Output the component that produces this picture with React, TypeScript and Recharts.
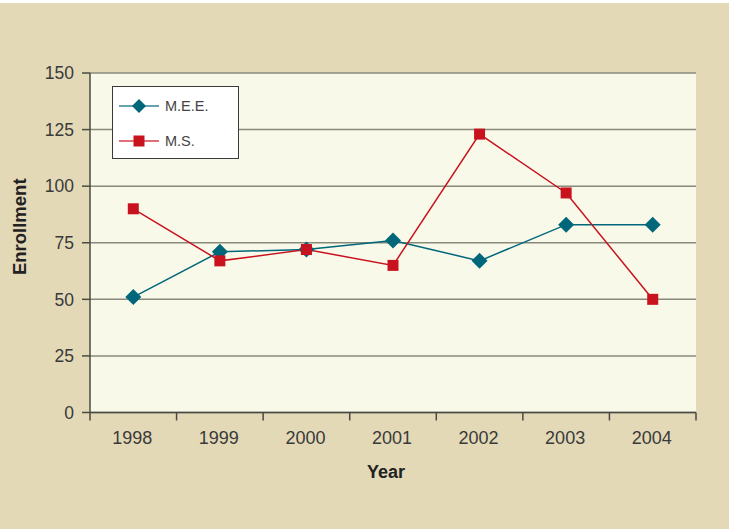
import { CartesianGrid, ComposedChart, Legend, Line, XAxis, YAxis } from 'recharts';

const YEARS = ['1998', '1999', '2000', '2001', '2002', '2003', '2004'];
const MEE = [51, 71, 72, 76, 67, 83, 83];
const MS = [90, 67, 72, 65, 123, 97, 50];
const Y_TICKS = [0, 25, 50, 75, 100, 125, 150];

const TEAL = '#00677a';
const RED = '#c8131f';
const AXIS = '#4a4a42';
const GRID = '#8a8a7c';
const TEXT = '#3a3a3a';
const FONT = '"Liberation Sans", Arial, Helvetica, sans-serif';

const data = YEARS.map((year, i) => ({ year, mee: MEE[i], ms: MS[i] }));

const Diamond = ({ cx, cy, r = 8 }: any) => (
  <polygon points={`${cx},${cy - r} ${cx + r},${cy} ${cx},${cy + r} ${cx - r},${cy}`} fill={TEAL} />
);

const Square = ({ cx, cy, s = 11 }: any) => (
  <rect x={cx - s / 2} y={cy - s / 2} width={s} height={s} fill={RED} />
);

const SERIES = [
  { key: 'mee', name: 'M.E.E.', color: TEAL, Marker: Diamond },
  { key: 'ms', name: 'M.S.', color: RED, Marker: Square },
];

// Excel-style category axis: tick marks sit between the years
const YearTick = (props: any) => {
  const { x, y, payload, index } = props;
  const half = payload.offset || 43.3;
  return (
    <g>
      <line x1={x - half} y1={y} x2={x - half} y2={y + 8} stroke={AXIS} strokeWidth={1.5} />
      {index === YEARS.length - 1 && (
        <line x1={x + half} y1={y} x2={x + half} y2={y + 8} stroke={AXIS} strokeWidth={1.5} />
      )}
      <text x={x - 1} y={y + 25} textAnchor="middle" dominantBaseline="central" fontSize={18} fill={TEXT} fontFamily={FONT}>
        {payload.value}
      </text>
    </g>
  );
};

const LegendBox = () => (
  <div
    style={{
      width: 127,
      height: 73,
      boxSizing: 'border-box',
      border: '1px solid #3a3a3a',
      background: '#fff',
      paddingTop: 1,
      fontFamily: FONT,
    }}
  >
    {SERIES.map(({ name, color, Marker }) => (
      <div key={name} style={{ display: 'flex', alignItems: 'center', height: 35.5, paddingLeft: 6 }}>
        <svg width={40} height={20}>
          <line x1={0} y1={10} x2={40} y2={10} stroke={color} strokeWidth={1.5} opacity={0.8} />
          <Marker cx={20} cy={10} r={7} s={11} />
        </svg>
        <span style={{ marginLeft: 6, fontSize: 14.5, color: '#444' }}>{name}</span>
      </div>
    ))}
  </div>
);

export default function App() {
  return (
    <div
      style={{
        position: 'absolute',
        left: 0,
        top: 0,
        width: 729,
        height: 529,
        background: '#e3d9b7',
        borderTop: '3px solid #fff',
        boxSizing: 'border-box',
      }}
    >
      <div style={{ position: 'absolute', left: 0, top: -3 }}>
        <ComposedChart width={729} height={529} data={data} margin={{ top: 73, right: 33, bottom: 51.5, left: 0 }}>
          <CartesianGrid vertical={false} stroke={GRID} strokeWidth={1.5} fill="#f8f9e9" />
          <XAxis
            dataKey="year"
            scale="band"
            height={65}
            axisLine={{ stroke: AXIS, strokeWidth: 1.5 }}
            tickLine={false}
            tickSize={0}
            tickMargin={0}
            interval={0}
            tick={<YearTick />}
            label={{
              value: 'Year',
              position: 'insideBottom',
              offset: 0,
              dx: -7,
              fontSize: 18,
              fontWeight: 700,
              fill: '#222',
              fontFamily: FONT,
            }}
          />
          <YAxis
            width={90}
            domain={[0, 150]}
            ticks={Y_TICKS}
            interval={0}
            axisLine={{ stroke: AXIS, strokeWidth: 1.5 }}
            tickLine={{ stroke: AXIS, strokeWidth: 1.5 }}
            tickSize={8}
            tickMargin={8}
            tick={{ fontSize: 17.5, fill: TEXT, fontFamily: FONT }}
            label={{
              content: ({ viewBox }: any) => {
                const lx = viewBox.x + 19;
                const ly = viewBox.y + viewBox.height / 2 - 16;
                return (
                  <text
                    x={lx}
                    y={ly}
                    transform={`rotate(-90 ${lx} ${ly})`}
                    textAnchor="middle"
                    dominantBaseline="central"
                    fontSize={18.5}
                    fontWeight={700}
                    fill="#222"
                    fontFamily={FONT}
                  >
                    Enrollment
                  </text>
                );
              },
            }}
          />
          <YAxis
            yAxisId="right"
            orientation="right"
            width={0}
            domain={[0, 150]}
            tick={false}
            tickLine={false}
            axisLine={{ stroke: '#6a6a60', strokeWidth: 1.5 }}
          />
          <Legend
            layout="vertical"
            align="center"
            verticalAlign="middle"
            wrapperStyle={{ left: 112, top: 86, width: 127, height: 73 }}
            content={<LegendBox />}
          />
          {SERIES.map(({ key, name, color, Marker }) => (
            <Line
              key={key}
              dataKey={key}
              name={name}
              stroke={color}
              strokeWidth={1.5}
              dot={(p: any) => <Marker key={`${key}-${p.index}`} cx={p.cx} cy={p.cy} />}
              activeDot={false}
              isAnimationActive={false}
            />
          ))}
        </ComposedChart>
      </div>
    </div>
  );
}
